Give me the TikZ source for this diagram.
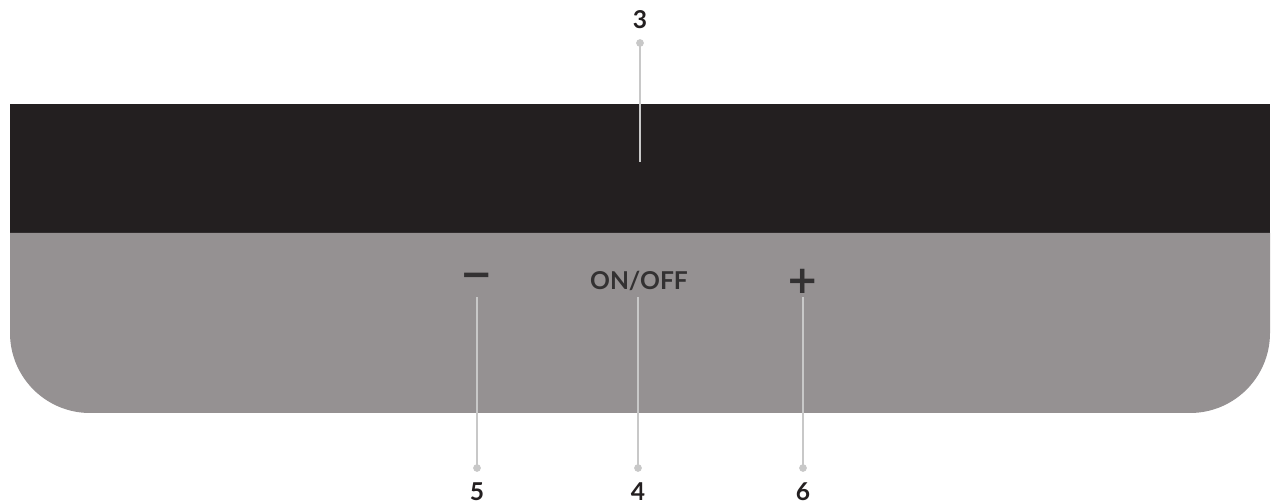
\documentclass[tikz,border=0pt]{standalone}
\usepackage{fontspec}
\setmainfont{Lato}[BoldFont={Lato Bold}]
\newfontfamily\symfont{DejaVu Sans}
\usetikzlibrary{positioning}
\definecolor{panelblack}{HTML}{231F20}
\definecolor{panelgrey}{HTML}{959192}
\definecolor{leadgrey}{HTML}{C8C8C8}
\definecolor{keygrey}{HTML}{333132}
\tikzset{
  callout/.style={font=\fontsize{14}{14}\selectfont\bfseries, text=panelblack, inner sep=0pt},
  leaddot/.style={circle, fill=leadgrey, inner sep=0pt, minimum size=4.4pt},
  lead/.style={draw=leadgrey, line width=1.3pt},
  keylabel/.style={font=\fontsize{14}{14}\selectfont\bfseries, text=keygrey, inner sep=0pt},
  keysym/.style={font=\symfont\fontsize{22}{22}\selectfont\bfseries, text=keygrey, inner sep=0pt},
}

\begin{document}
\begin{tikzpicture}[x=0.02cm, y=0.02cm]
      \useasboundingbox (0, 0) rectangle (1276, 504);

      % panel
      \fill [panelblack] (10, 271) rectangle (1270, 400);
      \fill [panelgrey] (10, 271) -- (10, 171) arc [start angle=180, end angle=270, radius=80]
        -- (1190, 91) arc [start angle=270, end angle=360, radius=80] -- (1270, 271) -- cycle;

      % keys
      \node [keysym] (minus) at (477, 224) {−};
      \node [keylabel] (onoff) at (639, 223) {ON/OFF};
      \node [keysym] (plus) at (803, 223) {+};

      % callouts
      \node [leaddot] (d3) at (640, 461) {};
      \node [leaddot] (d5) at (477, 36) {};
      \node [leaddot] (d4) at (638, 36) {};
      \node [leaddot] (d6) at (803, 36) {};
      \coordinate (e3) at (640, 342);
      \coordinate (e5) at (477, 207);
      \coordinate (e4) at (638, 207);
      \coordinate (e6) at (803, 207);

      \node [callout, above=0.2cm of d3] (n3) {3};
      \node [callout, below=0.2cm of d5] (n5) {5};
      \node [callout, below=0.2cm of d4] (n4) {4};
      \node [callout, below=0.2cm of d6] (n6) {6};

      \foreach \i in {3, 4, 5, 6}
      {
        \draw [lead] (d\i.center) -- (e\i);
      }
    \end{tikzpicture}
\end{document}
